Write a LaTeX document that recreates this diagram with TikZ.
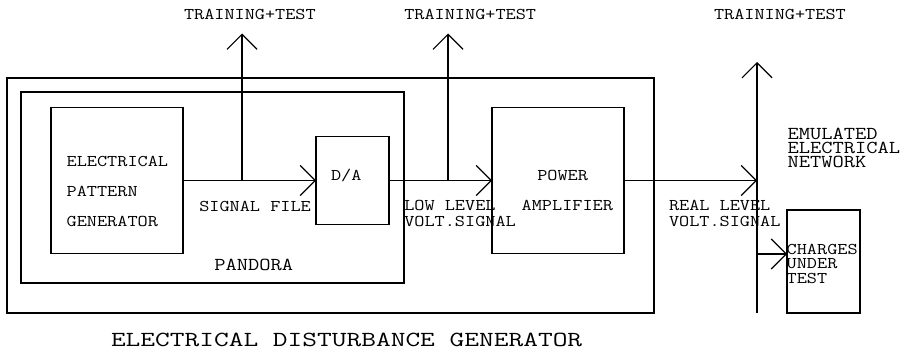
\documentclass[tikz,border=0pt]{standalone}
\usepackage{fontspec}
\usetikzlibrary{arrows.meta}
\newfontfamily\cour[FakeStretch=1.2]{Latin Modern Mono}
\newfontfamily\courw[FakeStretch=1.33]{Latin Modern Mono}
\tikzset{
  box/.style={draw, line width=1.2pt, inner sep=0pt, outer sep=0pt},
  arr/.style={line width=1.2pt, -{Straight Barb[length=15pt,width=30pt,line width=1.2pt]}},
  lbl/.style={inner sep=0pt, outer sep=0pt, font=\cour\fontsize{16.4}{16.4}\selectfont},
}
\begin{document}
\begin{tikzpicture}[x=1pt,y=-1pt]
\useasboundingbox (0,0) rectangle (909,351);
% boxes
\node[box, minimum width=647pt, minimum height=235pt] (outer) at (330.5,195.5) {};
\node[box, minimum width=383pt, minimum height=191pt] (pandora) at (212.5,187.5) {};
\node[box, minimum width=132pt, minimum height=146pt] (epg) at (117,180.5) {};
\node[box, minimum width=73pt, minimum height=88pt] (da) at (352.5,180.5) {};
\node[box, minimum width=132pt, minimum height=146pt] (pa) at (558,180.5) {};
\node[box, minimum width=73pt, minimum height=103pt] (cut) at (823.5,261.5) {};
% coordinates
\coordinate (t1) at (242,180.5);
\coordinate (t1top) at (242,33.5);
\coordinate (t2) at (448,180.5);
\coordinate (t2top) at (448,33.5);
\coordinate (nb) at (757,313);
\coordinate (nt) at (757,62);
\coordinate (nj) at (757,180.5);
\coordinate (nc) at (757,254);
% connectors
\draw[arr] (epg.east) -- (da.west);
\draw[arr] (da.east) -- (pa.west);
\draw[arr] (pa.east) -- (nj);
\draw[arr] (t1) -- (t1top);
\draw[arr] (t2) -- (t2top);
\draw[arr] (nb) -- (nt);
\draw[arr] (nc) -- (nc -| cut.west);
% labels
\node[lbl, anchor=base west] (tt1) at (184,19) {TRAINING+TEST};
\node[lbl, anchor=base west] (tt2) at (404.3,19) {TRAINING+TEST};
\node[lbl, anchor=base west] (tt3) at (714,19) {TRAINING+TEST};
\node[lbl, anchor=north west, align=left, font=\cour\fontsize{16.4}{29.7}\selectfont] (epgt) at (66.7,156.7) {ELECTRICAL\\PATTERN\\GENERATOR};
\node[lbl, anchor=base west] (sf) at (199.3,211) {SIGNAL FILE};
\node[lbl, anchor=base west] (dat) at (331,180.5) {D/A};
\node[lbl, anchor=north west, align=left, font=\cour\fontsize{16.4}{15.5}\selectfont] (llv) at (404.3,200.5) {LOW LEVEL\\VOLT.SIGNAL};
\node[lbl, anchor=base west] (pow) at (537.3,180) {POWER};
\node[lbl, anchor=base west] (amp) at (521.7,210) {AMPLIFIER};
\node[lbl, anchor=north west, align=left, font=\cour\fontsize{16.4}{15.5}\selectfont] (rlv) at (669,200.5) {REAL LEVEL\\VOLT.SIGNAL};
\node[lbl, anchor=north west, align=left, font=\cour\fontsize{18.2}{14}\selectfont] (emu) at (787.7,128.3) {EMULATED\\ELECTRICAL\\NETWORK};
\node[lbl, anchor=north west, align=left, font=\cour\fontsize{16.4}{14.6}\selectfont] (cht) at (786.7,244) {CHARGES\\UNDER\\TEST};
\node[lbl, anchor=base west, font=\cour\fontsize{18.2}{18.2}\selectfont] (pant) at (214.3,270) {PANDORA};
\node[lbl, anchor=base west, font=\courw\fontsize{21.5}{21.5}\selectfont] (edg) at (111,346) {ELECTRICAL DISTURBANCE GENERATOR};
\end{tikzpicture}
\end{document}
